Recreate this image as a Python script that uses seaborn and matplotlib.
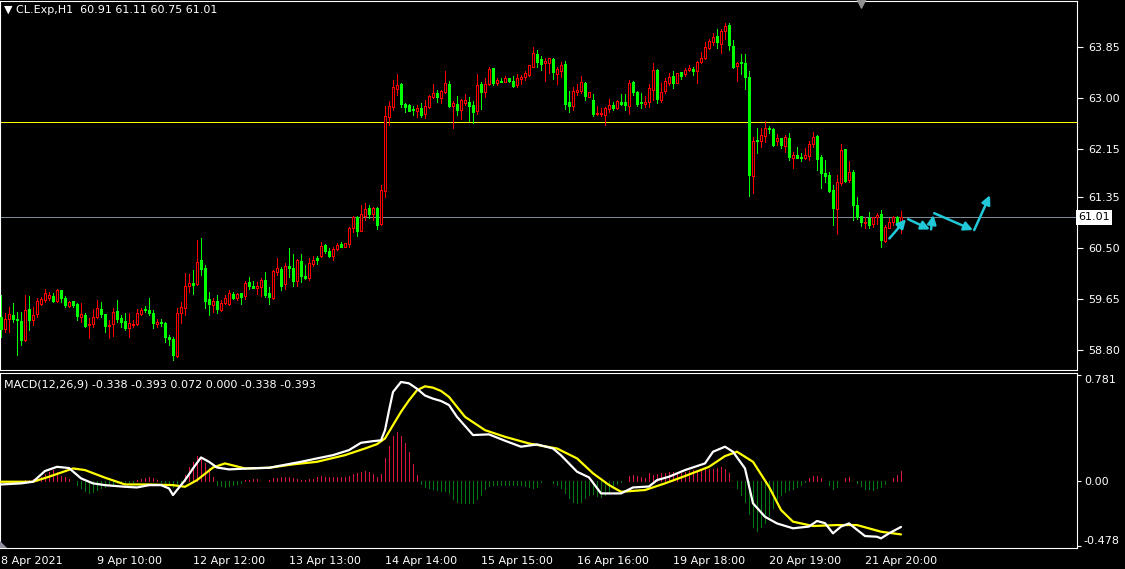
# CL.Exp H1 chart with MACD, MetaTrader look
import numpy as np
import pandas as pd
import matplotlib
matplotlib.use("Agg")
import matplotlib.pyplot as plt
import matplotlib.patches as patches
import seaborn as sns

sns.set_theme(style="dark")
plt.rcParams['font.family'] = ['DejaVu Sans']
plt.rcParams['axes.facecolor'] = 'black'
plt.rcParams['figure.facecolor'] = 'black'
plt.rcParams['text.color'] = 'white'

# hourly candles, 8 Apr 2021 .. 21 Apr 2021
opens = [
    59.35, 59.15, 59.32, 59.38, 59.32, 59.28, 58.97, 59.48, 59.30, 59.40,
    59.57, 59.63, 59.67, 59.70, 59.62, 59.80, 59.67, 59.53, 59.62, 59.57,
    59.35, 59.38, 59.22, 59.23, 59.35, 59.48, 59.40, 59.20, 59.23, 59.45,
    59.33, 59.28, 59.17, 59.22, 59.23, 59.40, 59.48, 59.47, 59.42, 59.23,
    59.27, 59.25, 59.02, 58.98, 58.70, 59.42, 59.50, 59.87, 59.92, 59.90,
    60.30, 60.17, 59.65, 59.55, 59.62, 59.47, 59.58, 59.57, 59.73, 59.67,
    59.75, 59.70, 59.93, 59.87, 59.83, 59.85, 59.97, 59.75, 59.67, 60.10,
    60.15, 59.90, 60.20, 60.17, 59.95, 60.28, 60.03, 60.00, 60.23, 60.33,
    60.37, 60.55, 60.45, 60.37, 60.48, 60.57, 60.52, 60.57, 60.83, 61.02,
    60.78, 61.03, 61.17, 61.07, 61.17, 60.90, 61.45, 62.68, 62.85, 63.15,
    63.23, 62.90, 62.88, 62.82, 62.78, 62.83, 62.73, 62.85, 63.02, 63.08,
    63.00, 63.10, 63.23, 62.87, 62.90, 62.80, 62.92, 62.93, 62.88, 62.78,
    63.23, 63.10, 63.23, 63.50, 63.25, 63.28, 63.27, 63.33, 63.28, 63.22,
    63.32, 63.35, 63.38, 63.52, 63.73, 63.65, 63.58, 63.58, 63.65, 63.40,
    63.45, 63.57, 62.93, 62.87, 63.10, 63.12, 63.25, 63.02, 62.97, 62.73,
    62.73, 62.72, 62.82, 62.88, 62.83, 62.93, 62.93, 62.87, 63.27, 63.10,
    62.93, 62.90, 62.93, 63.13, 63.47, 62.97, 63.12, 63.25, 63.37, 63.25,
    63.43, 63.40, 63.47, 63.48, 63.45, 63.60, 63.67, 63.83, 63.93, 64.03,
    63.90, 64.12, 64.22, 63.87, 63.53, 63.60, 63.58, 63.35, 61.70, 62.30,
    62.28, 62.37, 62.50, 62.48, 62.28, 62.33, 62.20, 62.33, 62.00, 62.05,
    62.02, 62.00, 62.03, 62.23, 62.37, 62.02, 61.75, 61.72, 61.47, 61.15,
    61.58, 62.15, 61.63, 61.77, 61.22, 61.03, 60.92, 61.00, 60.90, 61.02,
    61.07, 60.62, 60.83, 60.93, 61.02, 60.91,
]
highs = [
    59.72, 59.42, 59.52, 59.58, 59.43, 59.43, 59.72, 59.70, 59.52, 59.67,
    59.68, 59.82, 59.77, 59.75, 59.82, 59.80, 59.70, 59.62, 59.62, 59.58,
    59.58, 59.42, 59.33, 59.48, 59.63, 59.60, 59.40, 59.30, 59.50, 59.63,
    59.38, 59.42, 59.42, 59.30, 59.48, 59.50, 59.53, 59.67, 59.47, 59.32,
    59.32, 59.27, 59.05, 59.02, 59.50, 59.60, 60.08, 60.07, 60.13, 60.63,
    60.67, 60.22, 59.77, 59.67, 59.72, 59.63, 59.72, 59.80, 59.77, 59.75,
    59.75, 59.95, 60.02, 59.95, 59.93, 60.00, 60.10, 59.85, 60.13, 60.33,
    60.18, 60.25, 60.50, 60.40, 60.32, 60.40, 60.22, 60.33, 60.37, 60.37,
    60.60, 60.57, 60.50, 60.52, 60.58, 60.60, 60.58, 60.85, 61.03, 61.03,
    61.22, 61.25, 61.22, 61.18, 61.18, 61.55, 62.87, 62.95, 63.30, 63.40,
    63.25, 62.92, 62.90, 62.87, 62.88, 62.92, 62.97, 63.05, 63.23, 63.13,
    63.13, 63.45, 63.28, 62.95, 63.03, 62.98, 63.07, 63.02, 62.95, 63.40,
    63.27, 63.33, 63.52, 63.50, 63.33, 63.33, 63.37, 63.33, 63.37, 63.40,
    63.38, 63.45, 63.55, 63.85, 63.80, 63.70, 63.67, 63.67, 63.67, 63.52,
    63.60, 63.62, 63.12, 63.18, 63.23, 63.37, 63.27, 63.10, 63.07, 62.87,
    62.83, 62.85, 62.98, 62.93, 62.97, 63.07, 63.07, 63.30, 63.28, 63.12,
    63.08, 63.03, 63.23, 63.58, 63.48, 63.25, 63.33, 63.42, 63.45, 63.42,
    63.43, 63.50, 63.55, 63.52, 63.62, 63.77, 63.93, 63.98, 64.08, 64.15,
    64.15, 64.25, 64.25, 63.97, 63.60, 63.73, 63.73, 63.45, 62.35, 62.50,
    62.50, 62.62, 62.53, 62.50, 62.40, 62.33, 62.38, 62.42, 62.10, 62.18,
    62.08, 62.17, 62.28, 62.43, 62.38, 62.05, 61.97, 61.77, 61.55, 61.72,
    62.23, 62.15, 61.95, 61.80, 61.35, 61.03, 61.02, 61.10, 61.02, 61.08,
    61.13, 60.88, 61.00, 61.03, 61.03, 61.11,
]
lows = [
    59.02, 59.10, 59.10, 59.27, 58.72, 58.88, 58.95, 59.13, 59.22, 59.35,
    59.55, 59.60, 59.63, 59.60, 59.60, 59.60, 59.52, 59.52, 59.52, 59.30,
    59.27, 59.18, 59.00, 59.18, 59.33, 59.35, 59.10, 59.00, 59.03, 59.27,
    59.18, 59.13, 59.02, 59.18, 59.22, 59.38, 59.43, 59.38, 59.17, 59.18,
    59.20, 58.93, 58.88, 58.63, 58.68, 59.25, 59.38, 59.77, 59.73, 59.88,
    60.05, 59.50, 59.38, 59.43, 59.42, 59.45, 59.57, 59.55, 59.65, 59.63,
    59.57, 59.65, 59.82, 59.83, 59.73, 59.70, 59.68, 59.57, 59.65, 60.05,
    59.80, 59.82, 60.02, 59.87, 59.87, 59.93, 59.98, 59.97, 60.20, 60.23,
    60.35, 60.42, 60.35, 60.30, 60.47, 60.52, 60.52, 60.52, 60.77, 60.70,
    60.78, 60.97, 61.00, 60.97, 60.82, 60.88, 61.35, 62.55, 62.80, 63.05,
    62.85, 62.77, 62.78, 62.72, 62.68, 62.68, 62.67, 62.83, 63.00, 62.93,
    62.92, 63.08, 62.85, 62.50, 62.72, 62.65, 62.88, 62.62, 62.58, 62.73,
    62.82, 63.02, 63.22, 63.22, 63.22, 63.27, 63.27, 63.27, 63.18, 63.18,
    63.23, 63.30, 63.37, 63.52, 63.52, 63.47, 63.28, 63.42, 63.32, 63.23,
    63.35, 62.82, 62.77, 62.80, 63.05, 63.08, 62.97, 63.02, 62.70, 62.72,
    62.70, 62.55, 62.77, 62.80, 62.82, 62.88, 62.80, 62.73, 63.05, 62.87,
    62.83, 62.85, 62.85, 62.97, 62.92, 62.93, 63.08, 63.22, 63.17, 63.25,
    63.32, 63.37, 63.45, 63.38, 63.25, 63.58, 63.65, 63.82, 63.88, 63.83,
    63.75, 63.98, 63.80, 63.50, 63.28, 63.40, 63.15, 61.37, 61.42, 62.08,
    62.18, 62.27, 62.42, 62.20, 62.22, 62.17, 62.10, 61.97, 61.83, 62.00,
    61.95, 61.98, 61.97, 62.18, 61.80, 61.50, 61.60, 61.43, 60.88, 60.73,
    61.55, 61.60, 61.60, 60.97, 60.98, 60.87, 60.83, 60.83, 60.85, 60.90,
    60.52, 60.60, 60.83, 60.88, 60.83, 60.75,
]
closes = [
    59.15, 59.32, 59.40, 59.32, 59.30, 58.97, 59.47, 59.30, 59.38, 59.62,
    59.65, 59.75, 59.72, 59.62, 59.80, 59.67, 59.55, 59.60, 59.55, 59.37,
    59.40, 59.20, 59.23, 59.35, 59.50, 59.40, 59.20, 59.22, 59.43, 59.32,
    59.27, 59.17, 59.25, 59.23, 59.42, 59.47, 59.47, 59.42, 59.25, 59.27,
    59.25, 59.02, 58.98, 58.72, 59.42, 59.52, 59.87, 59.92, 59.88, 60.27,
    60.15, 59.62, 59.57, 59.62, 59.48, 59.58, 59.67, 59.75, 59.67, 59.73,
    59.68, 59.92, 59.87, 59.83, 59.87, 59.97, 59.72, 59.68, 60.12, 60.17,
    59.87, 60.20, 60.17, 59.95, 60.30, 60.03, 60.00, 60.25, 60.30, 60.30,
    60.53, 60.45, 60.37, 60.48, 60.55, 60.52, 60.58, 60.83, 61.02, 60.78,
    61.07, 61.15, 61.07, 61.17, 60.88, 61.47, 62.70, 62.87, 63.18, 63.22,
    62.90, 62.85, 62.78, 62.80, 62.83, 62.72, 62.87, 63.03, 63.08, 63.02,
    63.12, 63.25, 62.87, 62.92, 62.80, 62.97, 62.97, 62.87, 62.77, 63.22,
    63.10, 63.23, 63.48, 63.25, 63.30, 63.27, 63.33, 63.28, 63.20, 63.33,
    63.35, 63.42, 63.55, 63.75, 63.60, 63.57, 63.62, 63.67, 63.43, 63.48,
    63.55, 62.90, 62.87, 63.12, 63.13, 63.27, 63.03, 63.10, 62.73, 62.75,
    62.75, 62.83, 62.88, 62.83, 62.95, 62.90, 62.88, 63.25, 63.10, 62.90,
    62.92, 62.93, 63.17, 63.47, 62.98, 63.10, 63.28, 63.35, 63.25, 63.42,
    63.37, 63.47, 63.50, 63.45, 63.60, 63.67, 63.85, 63.95, 64.02, 63.93,
    64.12, 64.20, 63.88, 63.52, 63.58, 63.58, 63.35, 61.72, 62.28, 62.28,
    62.38, 62.50, 62.48, 62.22, 62.33, 62.22, 62.35, 62.02, 62.05, 62.00,
    62.00, 62.05, 62.23, 62.35, 61.98, 61.75, 61.70, 61.45, 61.17, 61.60,
    62.13, 61.62, 61.77, 61.22, 61.02, 60.93, 60.93, 60.88, 61.02, 61.05,
    60.63, 60.85, 60.93, 61.02, 60.92, 61.01,
]

# MACD histogram, one value per bar
macd_hist = [
    0.0, 0.0, -0.005, -0.01, -0.015, -0.01, 0.005, 0.01, 0.015, 0.02,
    0.03, 0.05, 0.07, 0.08, 0.07, 0.04, 0.027, 0.012, 0.0, -0.03,
    -0.054, -0.071, -0.086, -0.078, -0.066, -0.054, -0.042, -0.03, -0.02, -0.015,
    -0.015, -0.012, -0.01, -0.005, 0.005, 0.012, 0.02, 0.027, 0.02, 0.007,
    -0.005, -0.017, -0.03, -0.047, -0.03, -0.012, 0.044, 0.105, 0.142, 0.184,
    0.167, 0.135, 0.093, 0.032, -0.03, -0.037, -0.042, -0.037, -0.03, -0.025,
    -0.017, 0.007, 0.007, 0.012, 0.012, 0.0, 0.0, 0.007, 0.02, 0.02,
    0.027, 0.027, 0.027, 0.02, 0.012, 0.005, 0.007, 0.012, 0.012, 0.027,
    0.037, 0.032, 0.027, 0.027, 0.027, 0.032, 0.027, 0.037, 0.051, 0.056,
    0.069, 0.076, 0.069, 0.051, 0.032, 0.049, 0.17, 0.257, 0.33, 0.363,
    0.33, 0.277, 0.216, 0.125, 0.044, -0.02, -0.042, -0.05, -0.06, -0.065,
    -0.07, -0.075, -0.09, -0.13, -0.152, -0.16, -0.164, -0.164, -0.16, -0.13,
    -0.1, -0.06, -0.04, -0.03, -0.03, -0.03, -0.03, -0.03, -0.03, -0.03,
    -0.03, -0.037, -0.047, -0.054, -0.047, -0.005, 0.0, 0.0, -0.012, -0.03,
    -0.054, -0.086, -0.127, -0.152, -0.16, -0.152, -0.127, -0.103, -0.096, -0.11,
    -0.115, -0.103, -0.078, -0.047, -0.025, -0.01, 0.0, 0.037, 0.044, 0.037,
    0.027, 0.02, 0.061, 0.044, 0.051, 0.056, 0.061, 0.069, 0.069, 0.056,
    0.061, 0.069, 0.074, 0.081, 0.081, 0.081, 0.086, 0.086, 0.086, 0.093,
    0.1, 0.086, 0.056, 0.0, -0.054, -0.103, -0.152, -0.245, -0.34, -0.365,
    -0.336, -0.31, -0.26, -0.2, -0.135, -0.1, -0.081, -0.066, -0.061, -0.047,
    -0.03, -0.01, 0.02, 0.037, 0.037, 0.02, 0.0, -0.03, -0.061, -0.042,
    0.0, 0.02, 0.027, 0.0, -0.017, -0.037, -0.056, -0.061, -0.066, -0.054,
    -0.047, -0.02, 0.0, 0.02, 0.044, 0.072,
]

# MACD main line (white) read at these bars
macd_bar = [0, 5, 8, 11, 14, 17, 20, 23, 26, 31, 34, 37, 40, 42, 43, 44, 46, 48, 50, 52,
            54, 57, 62, 67, 71, 75, 79, 83, 87, 90, 93, 95, 96, 97, 98, 100, 102, 104, 106, 108,
            110, 112, 114, 118, 122, 126, 130, 134, 138, 140, 144, 147, 150, 155, 158, 162, 164, 167, 171, 176,
            178, 181, 183, 186, 188, 191, 194, 198, 202, 204, 206, 208, 210, 212, 216, 219, 220, 222, 225]
macd_main = [-0.025, -0.017, -0.005, 0.074, 0.105, 0.096, 0.02, -0.017, -0.03, -0.042, -0.047, -0.03, -0.03, -0.054,
             -0.103, -0.066, 0.007, 0.093, 0.174, 0.142, 0.1, 0.086, 0.093, 0.098, 0.12, 0.142, 0.167, 0.191,
             0.228, 0.282, 0.294, 0.3, 0.375, 0.52, 0.656, 0.73, 0.72, 0.68, 0.63, 0.607, 0.59, 0.56,
             0.473, 0.339, 0.344, 0.297, 0.253, 0.27, 0.24, 0.19, 0.069, 0.027, -0.091, -0.091, -0.047, -0.04,
             0.007, 0.032, 0.081, 0.13, 0.216, 0.253, 0.216, 0.093, -0.164, -0.263, -0.312, -0.348, -0.335,
             -0.294, -0.31, -0.385, -0.335, -0.312, -0.405, -0.41, -0.422, -0.385, -0.338]

# signal line (yellow)
sig_bar = [0, 8, 12, 18, 21, 26, 31, 37, 43, 46, 49, 53, 56, 61, 67, 73, 79, 86, 91, 94,
           96, 98, 100, 102, 104, 106, 108, 110, 112, 116, 121, 126, 132, 139, 144, 148, 152, 155, 161, 166,
           171, 177, 181, 184, 188, 192, 195, 198, 203, 209, 214, 220, 225]
sig_line = [-0.005, -0.005, 0.032, 0.093, 0.081, 0.025, -0.025, -0.025, -0.03, -0.042, 0.007, 0.1, 0.13, 0.093,
            0.098, 0.123, 0.142, 0.191, 0.24, 0.272, 0.314, 0.412, 0.51, 0.595, 0.669, 0.698, 0.688, 0.664,
            0.62, 0.473, 0.375, 0.326, 0.277, 0.24, 0.167, 0.057, -0.029, -0.079, -0.066, -0.017, 0.037,
            0.105, 0.184, 0.216, 0.142, -0.042, -0.213, -0.299, -0.331, -0.324, -0.324, -0.373, -0.393]

# hand drawn arrows (bar index, price)
arrow_x0 = [222.1, 226.8, 232.5, 233.3, 243.3]
arrow_y0 = [60.66, 60.98, 60.81, 61.08, 60.80]
arrow_x1 = [226.25, 232.25, 233.1, 243.0, 247.25]
arrow_y1 = [60.98, 60.81, 61.05, 60.80, 61.38]

price_ticks = [63.85, 63.00, 62.15, 61.35, 60.50, 59.65, 58.80]
macd_ticks = [0.781, 0.0, -0.478]
macd_tick_labels = ['0.781', '0.00', '-0.478']
date_pos = [0, 24, 48, 72, 96, 120, 144, 168, 192, 216]
date_labels = ['8 Apr 2021', '9 Apr 10:00', '12 Apr 12:00', '13 Apr 13:00', '14 Apr 14:00',
               '15 Apr 15:00', '16 Apr 16:00', '19 Apr 18:00', '20 Apr 19:00', '21 Apr 20:00']

level_yellow = 62.60
last_price = 61.01

df = pd.DataFrame({'open': opens, 'high': highs, 'low': lows, 'close': closes, 'hist': macd_hist})
df['bar'] = np.arange(len(df))
up = df['close'] > df['open']

W, H = 1125, 569
fig = plt.figure(figsize=(W / 100, H / 100), dpi=100)
ax = fig.add_axes([0, 1 - 370 / H, 1077 / W, 369 / H])
ax2 = fig.add_axes([0, 1 - 548 / H, 1077 / W, 175 / H])

RED, GREEN, CYAN = '#ff0000', '#00ff00', '#20c8d8'
PX = 0.7  # about one pixel

# candles: wicks first, bodies on top
ax.vlines(df['bar'], df['low'], df['high'], colors=np.where(up, RED, GREEN), lw=PX,
          antialiased=False, zorder=2)
u = df[up]
d = df[~up]
ax.bar(u['bar'], u['close'] - u['open'], bottom=u['open'], width=0.55,
       facecolor='black', edgecolor=RED, lw=PX, antialiased=False, zorder=3)
ax.bar(d['bar'], d['close'] - d['open'], bottom=d['open'], width=0.6,
       facecolor=GREEN, edgecolor=GREEN, lw=PX, antialiased=False, zorder=3)

ax.axhline(level_yellow, color='#ffff00', lw=PX, antialiased=False, zorder=1)
ax.axhline(last_price, color='#7a8a9a', lw=PX, antialiased=False, zorder=1)

for x0, y0, x1, y1 in zip(arrow_x0, arrow_y0, arrow_x1, arrow_y1):
    ax.annotate('', xy=(x1, y1), xytext=(x0, y0),
                arrowprops=dict(arrowstyle='-|>', color=CYAN, lw=1.8, mutation_scale=13,
                                shrinkA=0, shrinkB=0), zorder=5)

ax.set_xlim(-0.25, 269)
ax.set_ylim(58.467, 64.617)
ax.set_xticks([])
ax.yaxis.tick_right()
ax.set_yticks(price_ticks)
ax.set_yticklabels([f'{v:.2f}' for v in price_ticks])
ax.tick_params(axis='y', colors='white', length=4, width=0.8, labelsize=8, pad=4)
ax.grid(False)

ax.text(0.004, 0.988, '\u25bc CL.Exp,H1  60.91 61.11 60.75 61.01', transform=ax.transAxes,
        ha='left', va='top', fontsize=8, color='white')
ax.text(1.0015, last_price, '61.01', transform=ax.get_yaxis_transform(), ha='left', va='center',
        fontsize=8, color='black', bbox=dict(facecolor='white', edgecolor='none', boxstyle='square,pad=0.2'))
ax.scatter([861 / 1077], [0.995], marker='v', s=45, color='#909090', transform=ax.transAxes,
           clip_on=False, zorder=6)

# MACD panel
ax2.vlines(df['bar'], 0, df['hist'], colors=np.where(df['hist'] > 0, '#dc143c', '#007a10'), lw=PX,
           antialiased=False)
sns.lineplot(x=sig_bar, y=sig_line, ax=ax2, color='#ffff00', lw=1.6, zorder=3)
sns.lineplot(x=macd_bar, y=macd_main, ax=ax2, color='white', lw=1.6, zorder=4)

ax2.set_xlim(-0.25, 269)
ax2.set_ylim(-0.493, 0.796)
ax2.yaxis.tick_right()
ax2.set_yticks(macd_ticks)
ax2.set_yticklabels(macd_tick_labels)
ax2.tick_params(axis='y', colors='white', length=3, width=0.8, labelsize=8, pad=2)
labs = ax2.get_yticklabels()
labs[0].set_va('top')
labs[2].set_va('bottom')
ax2.set_xticks(date_pos)
ax2.set_xticklabels(date_labels, ha='left')
ax2.tick_params(axis='x', colors='white', length=4, width=0.8, labelsize=8, pad=2)
ax2.set_xlabel('')
ax2.set_ylabel('')
ax2.grid(False)
ax2.text(0.004, 0.965, 'MACD(12,26,9) -0.338 -0.393 0.072 0.000 -0.338 -0.393', transform=ax2.transAxes,
         ha='left', va='top', fontsize=8, color='white')
ax2.add_patch(patches.Polygon([(0, 0), (0.0065, 0), (0, 0.04)], closed=True, transform=ax2.transAxes,
                              facecolor='#9090a0', edgecolor='none', zorder=6))

for a in (ax, ax2):
    for s in a.spines.values():
        s.set_color('white')
        s.set_linewidth(0.8)

fig.savefig('out.png', dpi=100, facecolor='black')
